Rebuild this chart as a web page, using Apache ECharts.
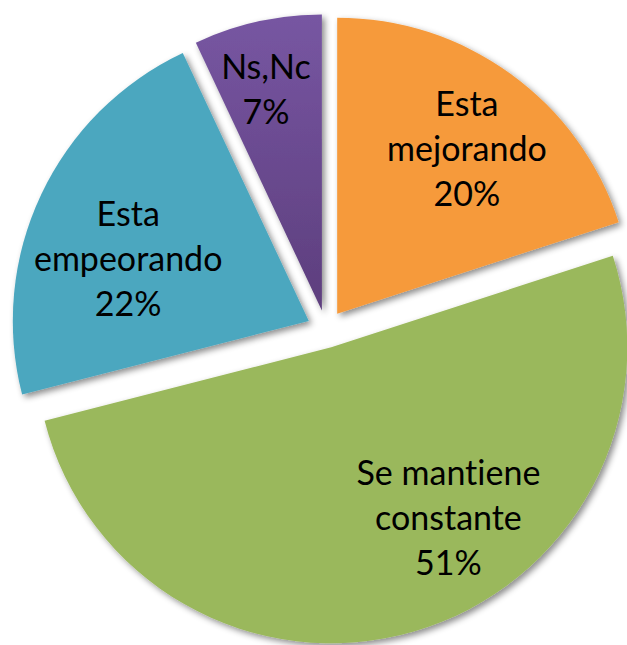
<!DOCTYPE html>
<html>
<head>
<meta charset="utf-8">
<script src="https://cdn.jsdelivr.net/npm/echarts@6/dist/echarts.min.js"></script>
<style>html,body{margin:0;padding:0;background:#fff;}#c{width:627px;height:645px;}#c text{font-variant-ligatures:none;font-feature-settings:"liga" 0,"clig" 0;}</style>
</head>
<body>
<div id="c"></div>
<script>
const categories = ['Esta mejorando', 'Se mantiene constante', 'Esta empeorando', 'Ns,Nc'];
const values = [20, 51, 22, 7];
const colors = ['#F69A3B', '#9AB85B', '#4BA7BF', null];
const labelShift = [[41, -44], [75, 24], [-44, 1], [-23, -75]];

const chart = echarts.init(document.getElementById('c'), null, {renderer: 'svg'});
const purple = new echarts.graphic.LinearGradient(0, 0, 0, 1, [
  {offset: 0, color: '#7756A2'}, {offset: 1, color: '#5D3E7D'}
]);
const data = categories.map((name, i) => ({
  name: name,
  value: values[i],
  selected: true,
  itemStyle: {color: colors[i] || purple}
}));

chart.setOption({
  animation: false,
  series: [{
    type: 'pie',
    center: [326, 329],
    radius: [0, 296],
    startAngle: 90,
    clockwise: true,
    selectedMode: 'multiple',
    selectedOffset: 19,
    emphasis: {disabled: true},
    itemStyle: {
      shadowBlur: 6,
      shadowColor: 'rgba(0,0,0,0.45)',
      shadowOffsetX: 3,
      shadowOffsetY: 3
    },
    label: {
      show: true,
      position: 'inside',
      fontFamily: 'Lato',
      fontSize: 34,
      lineHeight: 45,
      color: '#000',
      align: 'center',
      formatter: p => {
        const n = p.name;
        const k = n.lastIndexOf(' ');
        const nm = k > 0 ? n.slice(0, k) + '\n' + n.slice(k + 1) : n;
        return nm + '\n' + p.value + '%';
      }
    },
    labelLayout: p => ({dx: labelShift[p.dataIndex][0], dy: labelShift[p.dataIndex][1]}),
    labelLine: {show: false},
    data: data
  }]
});
</script>
</body>
</html>
